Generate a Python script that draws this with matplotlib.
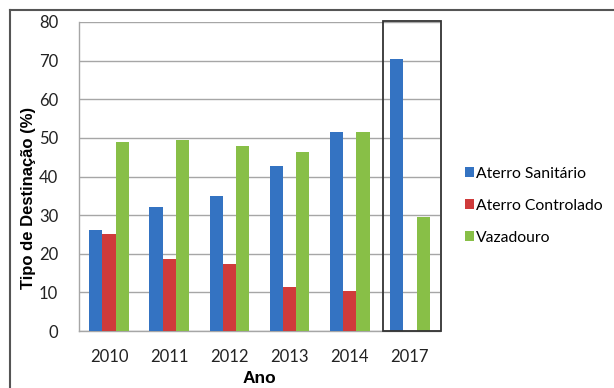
import numpy as np
import matplotlib.pyplot as plt
from matplotlib.patches import Rectangle
from matplotlib.lines import Line2D

# share of each destination type per year (%)
anos = ['2010', '2011', '2012', '2013', '2014', '2017']
aterro_sanitario = [26.2, 32.0, 34.9, 42.6, 51.5, 70.5]
aterro_controlado = [25.0, 18.6, 17.4, 11.3, 10.3, 0.0]
vazadouro = [49.0, 49.5, 47.9, 46.3, 51.5, 29.5]

series = ['Aterro Sanitário', 'Aterro Controlado', 'Vazadouro']
cores = ['#3473c2', '#cf3b3b', '#88bf47']

fonte = 'Lato'
fonte_eixo = 'Liberation Sans'

fig = plt.figure(figsize=(6.14, 3.88), dpi=100)
ax = fig.add_axes([0.1287, 0.1469, 0.5879, 0.7964])

x = np.arange(len(anos))
largura = 0.22
for i, (vals, nome, cor) in enumerate(zip([aterro_sanitario, aterro_controlado, vazadouro], series, cores)):
    ax.bar(x + (i - 1) * largura, vals, largura, color=cor, label=nome, zorder=3)

ax.set_xlim(-0.5, len(anos) - 0.5)
ax.set_ylim(0, 80)
ax.set_yticks(range(0, 81, 10))
ax.set_xticks(x)
ax.set_xticklabels(anos)
ax.grid(axis='y', color='#a6a6a6', linewidth=1.0, zorder=0)
ax.tick_params(length=0, labelsize=12, colors='#222222')
ax.tick_params(axis='y', pad=15)
ax.tick_params(axis='x', pad=13)
for lbl in ax.get_xticklabels() + ax.get_yticklabels():
    lbl.set_family(fonte)

for s in ['top', 'right']:
    ax.spines[s].set_visible(False)
for s in ['left', 'bottom']:
    ax.spines[s].set_color('#a6a6a6')
    ax.spines[s].set_linewidth(1.0)

ax.set_ylabel('Tipo de Destinação (%)', fontsize=12, fontweight='bold', family=fonte_eixo)
ax.yaxis.set_label_coords(-0.118, 0.43)
ax.set_xlabel('Ano', fontsize=12.5, fontweight='bold', family=fonte_eixo, labelpad=4)

# highlight box around the 2017 projection
ax.add_patch(Rectangle((4.56, 0), 0.95, 80.3, fill=False, edgecolor='#333333',
                       linewidth=1.3, clip_on=False, zorder=4))

leg = ax.legend(loc='center left', bbox_to_anchor=(1.03, 0.405), frameon=False,
                handlelength=0.55, handleheight=0.6, handletextpad=0.15,
                labelspacing=1.15, prop={'family': fonte, 'size': 11.3})

# outer frame of the figure
fig.add_artist(Line2D([10 / 614, 10 / 614], [0, 1 - 10 / 388], color='#555555',
                      linewidth=1.5, transform=fig.transFigure))
fig.add_artist(Line2D([10 / 614, 1], [1 - 10 / 388, 1 - 10 / 388], color='#555555',
                      linewidth=1.5, transform=fig.transFigure))

fig.savefig('out.png', dpi=100)
